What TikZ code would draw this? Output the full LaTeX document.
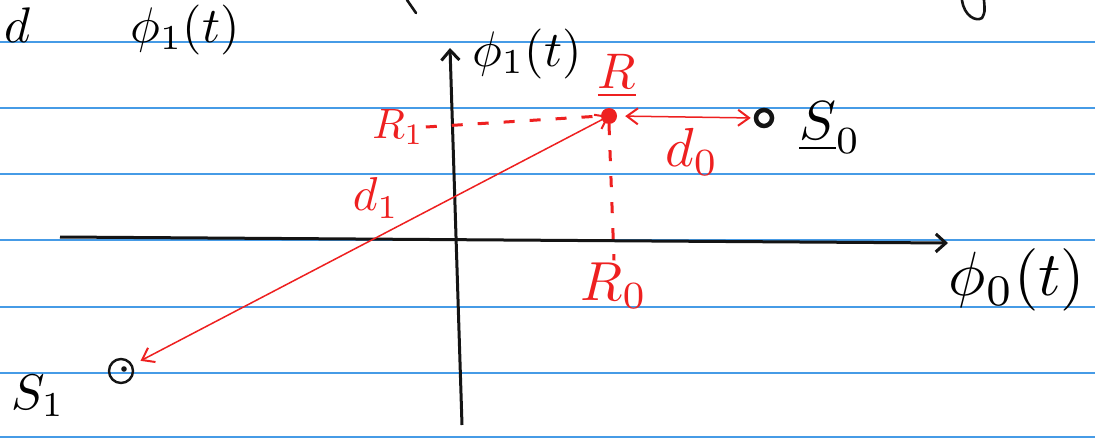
\documentclass[tikz,border=0pt]{standalone}
\usetikzlibrary{arrows.meta}
\definecolor{rulecol}{RGB}{70,155,230}
\definecolor{ink}{RGB}{20,20,20}
\definecolor{pen}{RGB}{238,32,32}
\begin{document}
\begin{tikzpicture}[x=1pt,y=-1pt,
  ruleline/.style={rulecol, line width=1.8pt},
  axis/.style={ink, line width=3pt, -{Straight Barb[length=10pt,width=18pt,line width=3pt]}},
  redarrow/.style={pen, line width=1.5pt, {Straight Barb[length=11pt,width=16pt,line width=2pt]}-{Straight Barb[length=11pt,width=16pt,line width=2pt]}},
  reddash/.style={pen, line width=3pt, dash pattern=on 11pt off 15pt},
  lbl/.style={scale=5, inner sep=0.3pt},
  redlbl/.style={lbl, text=pen},
]
\useasboundingbox (0,0) rectangle (1095,439);
\fill[white] (0,0) rectangle (1095,439);
\foreach \y in {42,108,174,240,307,373,437} \draw[ruleline] (0,\y) -- (1095,\y);

% partial strokes at the top edge
\draw[ink, line width=2.6pt, line cap=round] (407,0) -- (416,13);
\draw[ink, line width=2.6pt, line cap=round] (962,0) .. controls (964,16) and (976,22) .. (982,18) .. controls (985,12) .. (984,0);

% axes
\coordinate (xstart) at (60,237);
\coordinate (xend) at (948,243);
\coordinate (ybot) at (462,425);
\coordinate (ytop) at (450,48);
\draw[axis] (xstart) -- (xend);
\draw[axis] (ybot) -- (ytop);

% points
\node[circle, fill=pen, minimum size=16pt, inner sep=0pt] (R) at (609,116) {};
\node[circle, draw=ink, fill=white, line width=4.5pt, minimum size=16pt, inner sep=0pt] (S0) at (764,118) {};
\node[circle, draw=ink, line width=2.4pt, minimum size=24pt, inner sep=0pt] (S1) at (121,371) {};
\fill[ink] (S1.center) ++(3,-2) circle (2.8pt);

% labels
\node[lbl, anchor=west] (top) at (2,30) {$d\qquad\phi_1(t)$};
\node[lbl] (phi1) at (527,54) {$\phi_1(t)$};
\node[lbl, scale=1.25] (phi0) at (1017,280) {$\phi_0(t)$};
\node[redlbl] (Rl) at (617,76) {$\underline{R}$};
\node[redlbl, scale=0.85] (R1) at (398,127) {$R_1$};
\node[redlbl, scale=1.1] (R0) at (614,286) {$R_0$};
\node[redlbl, scale=1.1] (d0) at (692,152) {$d_0$};
\node[redlbl, scale=0.95] (d1) at (376,198) {$d_1$};
\node[lbl, scale=1.1] (S0l) at (830,128) {$\underline{S}_0$};
\node[lbl] (S1l) at (38,396) {$S_1$};

% connectors
\draw[reddash] (R1.east) -- (R.west);
\draw[reddash] (R.south) -- (R0.north);
\draw[redarrow, shorten <=8pt, shorten >=3pt] (R.east) -- (S0.west);
\draw[redarrow, shorten >=22pt] (R.center) -- (S1.center);
\end{tikzpicture}
\end{document}
